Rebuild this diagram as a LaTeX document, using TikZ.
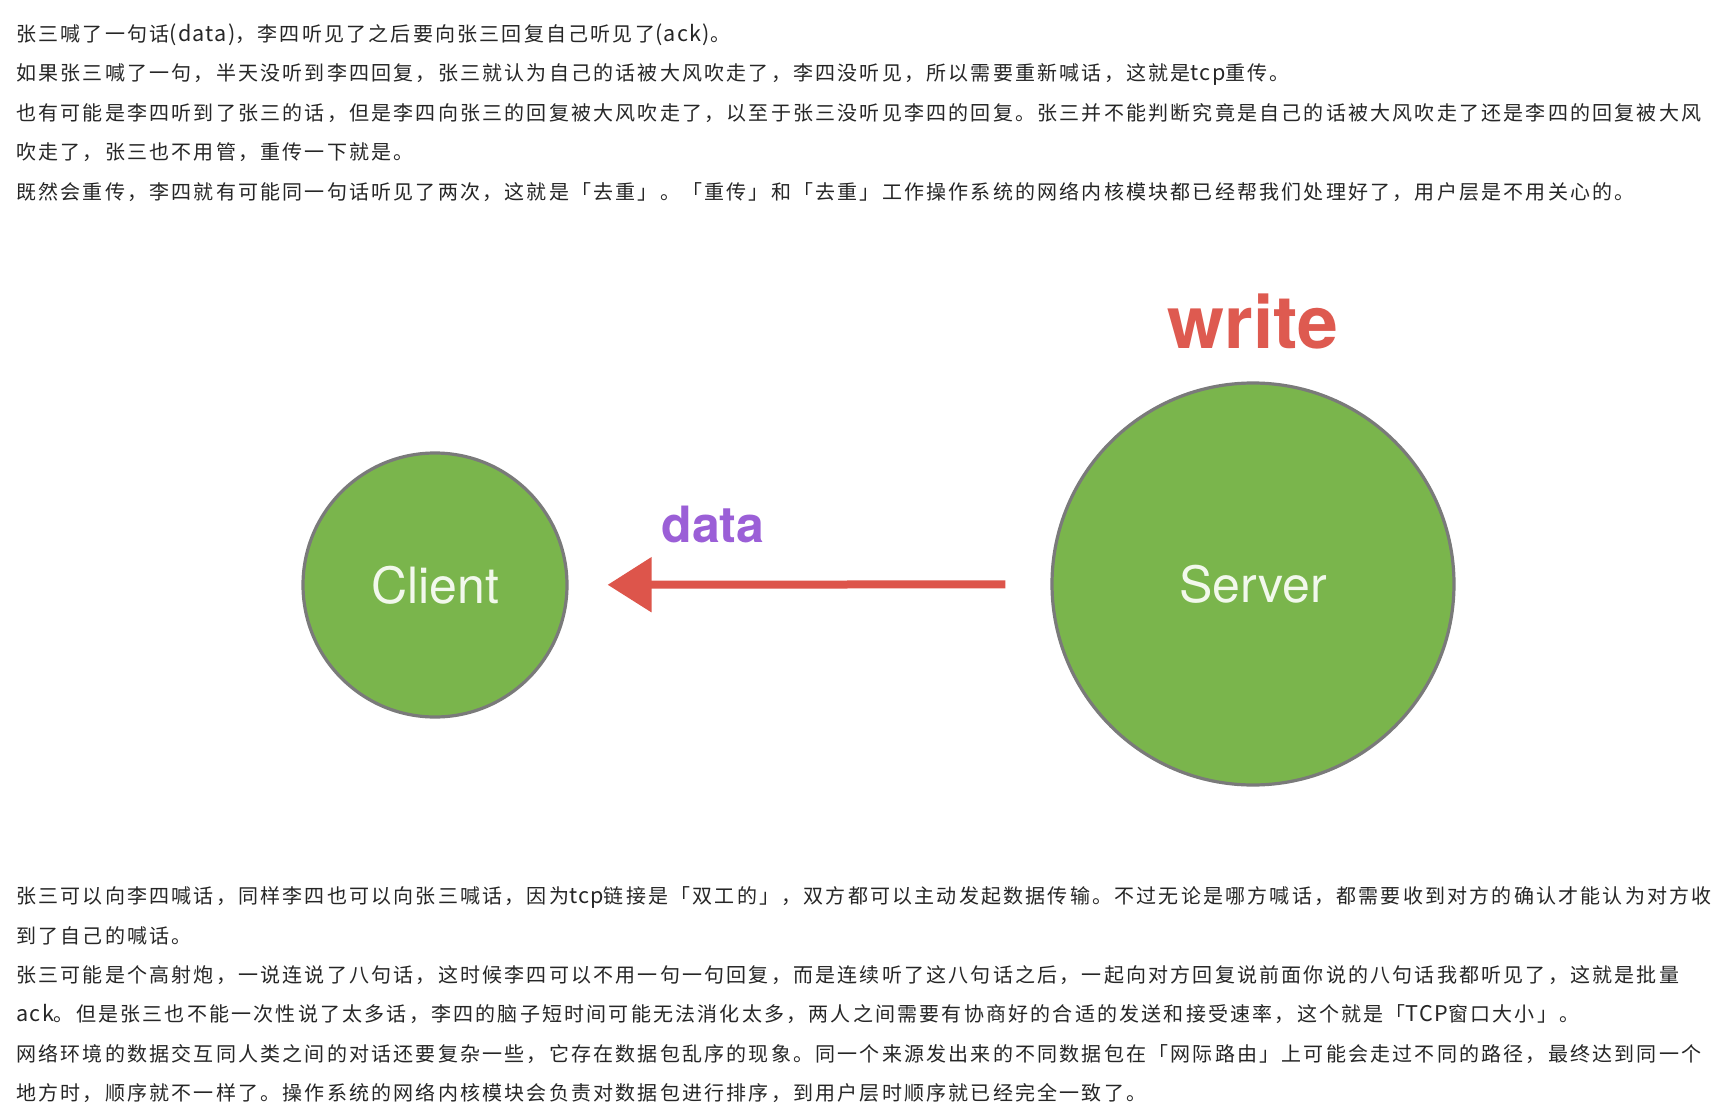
\documentclass[tikz,border=0pt]{standalone}
\usepackage{fontspec}
\setmainfont{Noto Sans CJK SC}[LetterSpace=11]
\newfontfamily\latn{Noto Sans CJK SC}[LetterSpace=6, Scale=1.08]
\newfontfamily\heros{TeX Gyre Heros}
\newcommand{\lt}[1]{{\latn #1}}
\usetikzlibrary{arrows.meta}
\definecolor{bodytext}{HTML}{262626}
\definecolor{nodegreen}{HTML}{7AB54C}
\definecolor{nodeedge}{HTML}{7A7A7A}
\definecolor{nodetext}{HTML}{F2F8EC}
\definecolor{writered}{HTML}{DE5A50}
\definecolor{arrowred}{HTML}{DD554B}
\definecolor{datapurple}{HTML}{9B5FD7}
\tikzset{
  para/.style={anchor=base west, inner sep=0pt, text=bodytext,
    font=\fontsize{15pt}{18pt}\selectfont},
  hostnode/.style={circle, fill=nodegreen, draw=nodeedge, line width=2.4pt,
    text=nodetext, font=\heros\fontsize{37.5pt}{40pt}\selectfont, inner sep=0pt},
  datarrow/.style={draw=arrowred, line width=6pt,
    -{Triangle[length=33pt, width=40pt]}, shorten <=33.75pt, shorten >=29.25pt},
}
\begin{document}
\begin{tikzpicture}[x=0.75pt, y=-0.75pt]
\useasboundingbox (0,0) rectangle (1714,1106);
\fill[white] (0,0) rectangle (1714,1106);
% top paragraph
\node[para] (t1) at (16,41.5) {张三喊了一句话\lt{(data)}，李四听见了之后要向张三回复自己听见了\lt{(ack)}。};
\node[para] (t2) at (16,81) {如果张三喊了一句，半天没听到李四回复，张三就认为自己的话被大风吹走了，李四没听见，所以需要重新喊话，这就是\lt{tcp}重传。};
\node[para] (t3) at (16,120.5) {也有可能是李四听到了张三的话，但是李四向张三的回复被大风吹走了，以至于张三没听见李四的回复。张三并不能判断究竟是自己的话被大风吹走了还是李四的回复被大风};
\node[para] (t4) at (16,159.5) {吹走了，张三也不用管，重传一下就是。};
\node[para] (t5) at (16,199) {既然会重传，李四就有可能同一句话听见了两次，这就是「去重」。「重传」和「去重」工作操作系统的网络内核模块都已经帮我们处理好了，用户层是不用关心的。};
% diagram
\node[hostnode, minimum size=198pt] (client) at (435,585) {Client};
\node[hostnode, minimum size=301.5pt] (server) at (1253,584) {Server};
\node[text=writered, font=\heros\bfseries\fontsize{55pt}{60pt}\selectfont, anchor=base, inner sep=0pt] (write) at (1253,348) {write};
\node[text=datapurple, font=\heros\bfseries\fontsize{37.5pt}{40pt}\selectfont, anchor=base, inner sep=0pt] (data) at (713,542) {data};
\draw[datarrow] (server) -- (client);
% bottom paragraph
\node[para] (b1) at (16,903) {张三可以向李四喊话，同样李四也可以向张三喊话，因为\lt{tcp}链接是「双工的」，双方都可以主动发起数据传输。不过无论是哪方喊话，都需要收到对方的确认才能认为对方收};
\node[para] (b2) at (16,943) {到了自己的喊话。};
\node[para] (b3) at (16,982.5) {张三可能是个高射炮，一说连说了八句话，这时候李四可以不用一句一句回复，而是连续听了这八句话之后，一起向对方回复说前面你说的八句话我都听见了，这就是批量};
\node[para] (b4) at (16,1021.5) {\lt{ack}。但是张三也不能一次性说了太多话，李四的脑子短时间可能无法消化太多，两人之间需要有协商好的合适的发送和接受速率，这个就是「\lt{TCP}窗口大小」。};
\node[para] (b5) at (16,1061) {网络环境的数据交互同人类之间的对话还要复杂一些，它存在数据包乱序的现象。同一个来源发出来的不同数据包在「网际路由」上可能会走过不同的路径，最终达到同一个};
\node[para] (b6) at (16,1100) {地方时，顺序就不一样了。操作系统的网络内核模块会负责对数据包进行排序，到用户层时顺序就已经完全一致了。};
\end{tikzpicture}
\end{document}
